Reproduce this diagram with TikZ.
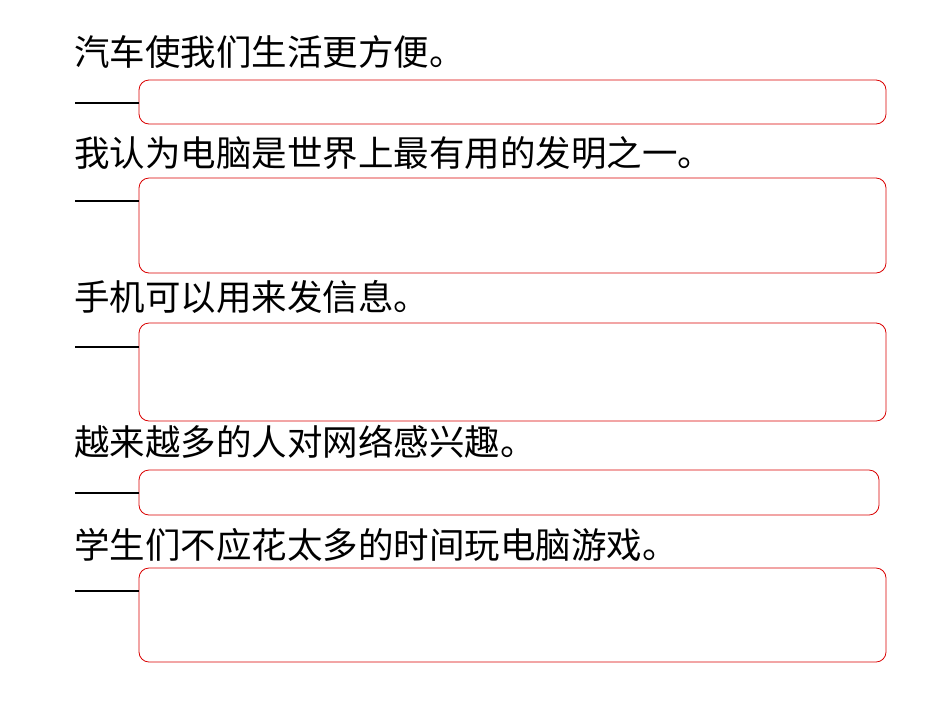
\documentclass[tikz,border=0pt]{standalone}
\usepackage{fontspec}
\newfontfamily\cjk{Noto Sans CJK SC}
\begin{document}
\begin{tikzpicture}[x=1pt,y=-1pt,
 sent/.style={anchor=west,inner sep=0pt,font=\cjk\fontsize{35.5}{40}\selectfont},
 ansbox/.style={draw=red!85!black,line width=0.8pt,rounded corners=10pt},
 dashline/.style={line width=1.2pt}]
\useasboundingbox (0,0) rectangle (950,713);
\node[sent] (s1) at (74,52) {汽车使我们生活更方便。};
\node[sent] (s2) at (74,153) {我认为电脑是世界上最有用的发明之一。};
\node[sent] (s3) at (74,297) {手机可以用来发信息。};
\node[sent] (s4) at (74,442) {越来越多的人对网络感兴趣。};
\node[sent] (s5) at (74,545) {学生们不应花太多的时间玩电脑游戏。};
\draw[ansbox] (139,80) rectangle (886,124);
\draw[ansbox] (139,178) rectangle (886,273);
\draw[ansbox] (139,323) rectangle (886,421);
\draw[ansbox] (139,470) rectangle (879,515);
\draw[ansbox] (139,568) rectangle (886,662);
\foreach \y in {103,201,347,493,591} \draw[dashline] (75,\y) -- (139,\y);
\end{tikzpicture}
\end{document}
